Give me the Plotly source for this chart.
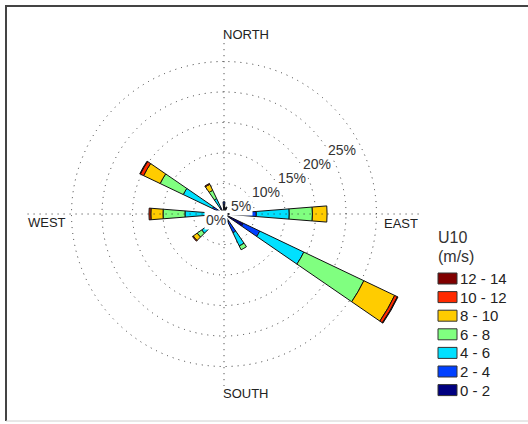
import plotly.graph_objects as go

# Wind directions (degrees, clockwise from north) that carry any frequency
directions = [0, 20, 90, 120, 150, 230, 270, 300, 330]

# Wind speed classes (m/s) and their colours
speed_bins = ["0 - 2", "2 - 4", "4 - 6", "6 - 8", "8 - 10", "10 - 12", "12 - 14"]
bin_colors = ["#000080", "#0040ff", "#00e0ff", "#80ff80", "#ffcc00", "#ff2a00", "#800000"]

# Frequency (%) of each speed class per direction
freq_0_2 = [1.6, 1.2, 1.5, 3.5, 1.5, 1.0, 1.0, 0.7, 1.0]
freq_2_4 = [0.4, 0.0, 3.8, 3.0, 1.9, 1.4, 1.6, 1.4, 0.3]
freq_4_6 = [0.0, 0.0, 5.4, 8.0, 2.4, 2.1, 3.8, 5.3, 1.5]
freq_6_8 = [0.0, 0.0, 3.8, 10.9, 0.7, 0.9, 3.6, 4.2, 1.5]
freq_8_10 = [0.0, 0.0, 2.4, 5.6, 0.0, 0.8, 2.0, 3.0, 1.1]
freq_10_12 = [0.0, 0.0, 0.0, 0.5, 0.0, 0.15, 0.3, 0.6, 0.15]
freq_12_14 = [0.0, 0.0, 0.0, 0.1, 0.0, 0.0, 0.0, 0.1, 0.0]
freq_by_bin = [freq_0_2, freq_2_4, freq_4_6, freq_6_8, freq_8_10, freq_10_12, freq_12_14]

# Rings and labels
ring_values = [5, 10, 15, 20, 25]
ring_labels = ["0%", "5%", "10%", "15%", "20%", "25%"]
compass_labels = ["NORTH", "EAST", "SOUTH", "WEST"]
legend_title = ["U10", "(m/s)"]

# ---- layout geometry (pixels) ----
W, H = 528, 424
CX, CY = 224, 214          # rose centre
PX_PER_PCT = 6.1           # radial scale
R_MAX = 32.5               # radial axis extent (%)
R_PX = R_MAX * PX_PER_PCT
PETAL_WIDTH = 9            # degrees


def px(x):
    return x / W


def py(y):
    return 1 - y / H


fig = go.Figure()

# stacked petals
for name, color, vals in zip(speed_bins, bin_colors, freq_by_bin):
    fig.add_trace(go.Barpolar(
        r=[v if v > 0 else None for v in vals],
        theta=directions,
        width=PETAL_WIDTH,
        name=name,
        marker=dict(color=color, line=dict(color="#111111", width=1)),
        showlegend=False,
        hoverinfo="skip",
    ))

# dotted compass axes (horizontal one reaches further, out to the labels)
axis_dash = "1px,5px"
fig.add_trace(go.Scatterpolar(
    r=[32.2, 0, 32.2], theta=[270, 270, 90], mode="lines",
    line=dict(color="#333333", width=1, dash=axis_dash),
    showlegend=False, hoverinfo="skip"))
fig.add_trace(go.Scatterpolar(
    r=[28.0, 0, 28.2], theta=[0, 0, 180], mode="lines",
    line=dict(color="#333333", width=1, dash=axis_dash),
    showlegend=False, hoverinfo="skip"))

fig.update_layout(
    width=W, height=H,
    margin=dict(l=0, r=0, t=0, b=0),
    paper_bgcolor="white",
    plot_bgcolor="white",
    font=dict(family="Liberation Sans, Arial, sans-serif", color="#222222"),
    polar=dict(
        domain=dict(x=[px(CX - R_PX), px(CX + R_PX)], y=[py(CY + R_PX), py(CY - R_PX)]),
        bgcolor="rgba(0,0,0,0)",
        barmode="stack",
        radialaxis=dict(
            range=[0, R_MAX], tickvals=ring_values, showticklabels=False,
            ticks="", showline=False, showgrid=True,
            gridcolor="#333333", gridwidth=1, griddash="1px,5px",
            layer="above traces",
        ),
        angularaxis=dict(
            rotation=90, direction="clockwise", showgrid=False,
            showline=False, showticklabels=False, ticks="",
        ),
    ),
)

annotations = []

# ring percentage labels, stepped outward along a diagonal
for k, lab in enumerate(ring_labels):
    lx = CX - 8 + 25.2 * k
    ly = CY + 6 - 14 * k
    annotations.append(dict(
        x=px(lx), y=py(ly), xref="paper", yref="paper", text=lab,
        showarrow=False, xanchor="center", yanchor="middle",
        font=dict(size=14, color="#333333"), bgcolor="white", borderpad=1))

# compass labels
compass_pos = {
    "NORTH": (221, 35),
    "EAST": (382, 223),
    "SOUTH": (221, 393),
    "WEST": (26, 222),
}
for lab in compass_labels:
    x0, y0 = compass_pos[lab]
    annotations.append(dict(
        x=px(x0), y=py(y0), xref="paper", yref="paper", text=lab,
        showarrow=False, xanchor="left", yanchor="middle",
        font=dict(size=13, color="#222222")))

# legend title
for i, t in enumerate(legend_title):
    annotations.append(dict(
        x=px(436), y=py(237 + 19 * i), xref="paper", yref="paper", text=t,
        showarrow=False, xanchor="left", yanchor="middle",
        font=dict(size=16, color="#333333")))

shapes = []
# legend entries, highest class on top
row0, row_step = 278.5, 18.6
for i, (name, color) in enumerate(zip(speed_bins[::-1], bin_colors[::-1])):
    yc = row0 + row_step * i
    shapes.append(dict(
        type="rect", xref="paper", yref="paper",
        x0=px(438), x1=px(457), y0=py(yc + 5.5), y1=py(yc - 5.5),
        fillcolor=color, line=dict(color="#333333", width=1)))
    annotations.append(dict(
        x=px(458), y=py(yc), xref="paper", yref="paper", text=name,
        showarrow=False, xanchor="left", yanchor="middle",
        font=dict(size=15, color="#222222")))

# frame
shapes.append(dict(type="line", xref="paper", yref="paper",
                   x0=px(6), x1=px(6), y0=py(5), y1=py(421),
                   line=dict(color="#444444", width=2)))
shapes.append(dict(type="line", xref="paper", yref="paper",
                   x0=px(5), x1=px(528), y0=py(6), y1=py(6),
                   line=dict(color="#444444", width=2)))
shapes.append(dict(type="line", xref="paper", yref="paper",
                   x0=px(6), x1=px(528), y0=py(421), y1=py(421),
                   line=dict(color="#d0d0d0", width=1)))

fig.update_layout(annotations=annotations, shapes=shapes)

fig.write_html("out.html")
